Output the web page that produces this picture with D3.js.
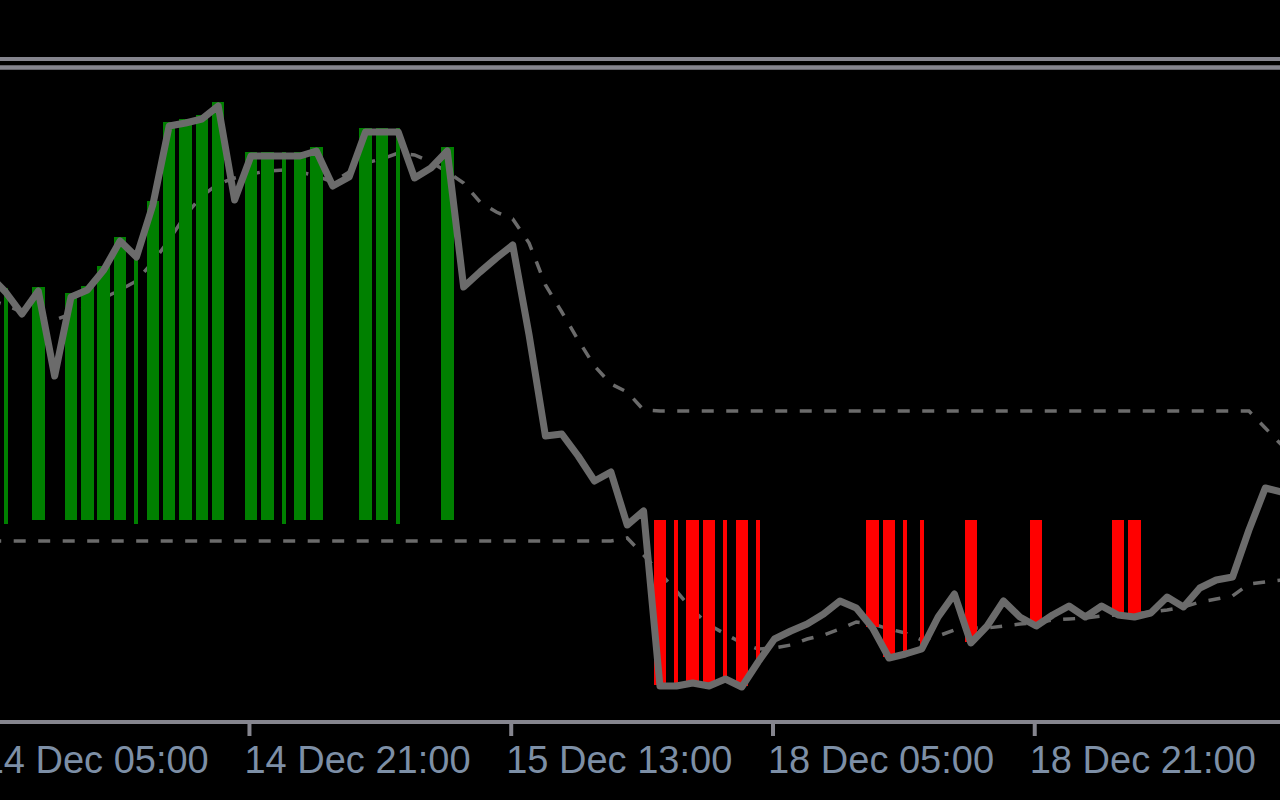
<!DOCTYPE html>
<html>
<head>
<meta charset="utf-8">
<script src="https://cdn.jsdelivr.net/npm/d3@7"></script>
<style>
  html, body { margin: 0; padding: 0; background: #000; }
  svg { display: block; }
</style>
</head>
<body>
<svg id="chart" width="1280" height="800"></svg>
<script>
// Hourly bars, index 0 = 14 Dec 04:00 (partly off the left edge)
const closes = [
  1.09750, 1.09716, 1.09672, 1.09718, 1.09548, 1.09706, 1.09720, 1.09760,
  1.09818, 1.09786, 1.09890, 1.10048, 1.10054, 1.10062, 1.10088, 1.09900,
  1.09988, 1.09988, 1.09988, 1.09988, 1.09998, 1.09928, 1.09946, 1.10036,
  1.10036, 1.10036, 1.09944, 1.09964, 1.09998, 1.09726, 1.09756, 1.09784,
  1.09810, 1.09630, 1.09428, 1.09432, 1.09388, 1.09338, 1.09356, 1.09250,
  1.09278, 1.08928, 1.08928, 1.08934, 1.08928, 1.08942, 1.08926, 1.08976,
  1.09022, 1.09038, 1.09052, 1.09072, 1.09098, 1.09084, 1.09044, 1.08984,
  1.08992, 1.09002, 1.09066, 1.09112, 1.09014, 1.09048, 1.09098, 1.09066,
  1.09048, 1.09070, 1.09088, 1.09066, 1.09088, 1.09070, 1.09066, 1.09074,
  1.09106, 1.09086, 1.09124, 1.09140, 1.09146, 1.09240, 1.09324, 1.09316
];

const upperLine = [
  1.09700, 1.09690, 1.09676, 1.09664, 1.09660, 1.09672, 1.09688, 1.09704,
  1.09720, 1.09738, 1.09776, 1.09820, 1.09870, 1.09908, 1.09932, 1.09944,
  1.09952, 1.09958, 1.09960, 1.09956, 1.09948, 1.09936, 1.09956, 1.09974,
  1.09982, 1.09994, 1.09990, 1.09976, 1.09956, 1.09934, 1.09896, 1.09876,
  1.09862, 1.09814, 1.09730, 1.09676, 1.09620, 1.09568, 1.09532, 1.09516,
  1.09480, 1.09478, 1.09478, 1.09478, 1.09478, 1.09478, 1.09478, 1.09478,
  1.09478, 1.09478, 1.09478, 1.09478, 1.09478, 1.09478, 1.09478, 1.09478,
  1.09478, 1.09478, 1.09478, 1.09478, 1.09478, 1.09478, 1.09478, 1.09478,
  1.09478, 1.09478, 1.09478, 1.09478, 1.09478, 1.09478, 1.09478, 1.09478,
  1.09478, 1.09478, 1.09478, 1.09478, 1.09478, 1.09478, 1.09444, 1.09410
];

const lowerLine = [
  1.09218, 1.09218, 1.09218, 1.09218, 1.09218, 1.09218, 1.09218, 1.09218,
  1.09218, 1.09218, 1.09218, 1.09218, 1.09218, 1.09218, 1.09218, 1.09218,
  1.09218, 1.09218, 1.09218, 1.09218, 1.09218, 1.09218, 1.09218, 1.09218,
  1.09218, 1.09218, 1.09218, 1.09218, 1.09218, 1.09218, 1.09218, 1.09218,
  1.09218, 1.09218, 1.09218, 1.09218, 1.09218, 1.09218, 1.09218, 1.09224,
  1.09190, 1.09154, 1.09118, 1.09080, 1.09050, 1.09032, 1.09014, 1.09002,
  1.09004, 1.09010, 1.09022, 1.09030, 1.09042, 1.09056, 1.09052, 1.09042,
  1.09034, 1.09020, 1.09028, 1.09040, 1.09044, 1.09044, 1.09048, 1.09052,
  1.09054, 1.09060, 1.09062, 1.09064, 1.09068, 1.09070, 1.09072, 1.09076,
  1.09080, 1.09086, 1.09096, 1.09102, 1.09108, 1.09132, 1.09136, 1.09140
];

// G = wide green, g = narrow green, R = wide red, r = narrow red, "" = none
const histType = [
  "", "g", "", "G", "", "G", "G", "G",
  "G", "g", "G", "G", "G", "G", "G", "",
  "G", "G", "g", "G", "G", "", "", "G",
  "G", "g", "", "", "G", "", "", "",
  "", "", "", "", "", "", "", "",
  "", "R", "r", "R", "R", "r", "R", "r",
  "", "", "", "", "", "", "R", "R",
  "r", "r", "", "", "R", "", "", "",
  "R", "", "", "", "", "R", "R", "",
  "", "", "", "", "", "", "", ""
];

const tickIndex  = [0, 16, 32, 48, 64];
const tickLabels = ["14 Dec 05:00", "14 Dec 21:00", "15 Dec 13:00", "18 Dec 05:00", "18 Dec 21:00"];

const W = 1280, H = 800;
const baseY = 520, thinBaseY = 524;
const gray = "#6b6b6b", frame = "#85858e", txt = "#7d8fa6";

const svg = d3.select("#chart");
svg.append("rect").attr("width", W).attr("height", H).attr("fill", "#000");

const x = d3.scaleLinear().domain([0, closes.length - 1]).range([-10.8, -10.8 + 16.36 * (closes.length - 1)]);
const y = d3.scaleLinear().domain([1.10300, 1.08700]).range([0, 800]);

const plot = svg.append("g");

// top separator lines
svg.append("line").attr("x1", 0).attr("x2", W).attr("y1", 59).attr("y2", 59)
  .attr("stroke", frame).attr("stroke-width", 4);
svg.append("line").attr("x1", 0).attr("x2", W).attr("y1", 67.5).attr("y2", 67.5)
  .attr("stroke", frame).attr("stroke-width", 4.5);

const idx = d3.range(closes.length);

// dashed lines
const mkLine = arr => d3.line().x(i => x(i)).y(i => y(arr[i]))(idx);
[upperLine, lowerLine].forEach(arr => {
  plot.append("path").attr("d", mkLine(arr)).attr("fill", "none")
    .attr("stroke", gray).attr("stroke-width", 3.5)
    .attr("stroke-dasharray", "12 12.5");
});

// histogram bars
const isWide = t => t === "G" || t === "R";
const isGreen = t => t === "G" || t === "g";
const bars = idx.filter(i => histType[i] !== "");
plot.selectAll("rect.bar").data(bars).enter().append("rect")
  .attr("class", "bar")
  .attr("shape-rendering", "crispEdges")
  .attr("fill", i => isGreen(histType[i]) ? "#008000" : "#ff0000")
  .attr("x", i => x(i) - (isWide(histType[i]) ? 12.5 : 4) / 2)
  .attr("width", i => isWide(histType[i]) ? 12.5 : 4)
  .attr("y", i => isGreen(histType[i]) ? y(closes[i]) - 4 : baseY)
  .attr("height", i => {
    const t = histType[i];
    if (t === "G") return baseY - (y(closes[i]) - 4);
    if (t === "g") return thinBaseY - (y(closes[i]) - 4);
    return (y(closes[i]) - 1) - baseY;
  });

// price line
plot.append("path").attr("d", mkLine(closes)).attr("fill", "none")
  .attr("stroke", gray).attr("stroke-width", 7)
  .attr("stroke-linejoin", "round");

// time axis
const xt = x.copy().range(x.range().map(v => v - 2));
const axis = d3.axisBottom(xt).tickValues(tickIndex)
  .tickFormat((d, i) => tickLabels[i]).tickSize(14).tickSizeOuter(0);
const ag = svg.append("g").attr("transform", "translate(0,722)").call(axis);
ag.select(".domain").remove();
ag.append("line").attr("x1", 0).attr("x2", W).attr("y1", 0).attr("y2", 0)
  .attr("stroke", frame).attr("stroke-width", 4);
ag.selectAll(".tick line").attr("stroke", frame).attr("stroke-width", 4);
ag.selectAll(".tick text")
  .attr("fill", txt)
  .attr("text-anchor", "start")
  .attr("x", -5).attr("y", 51).attr("dy", 0)
  .style("font-family", "'Liberation Sans', Arial, sans-serif")
  .style("font-size", "38px");
</script>
</body>
</html>
